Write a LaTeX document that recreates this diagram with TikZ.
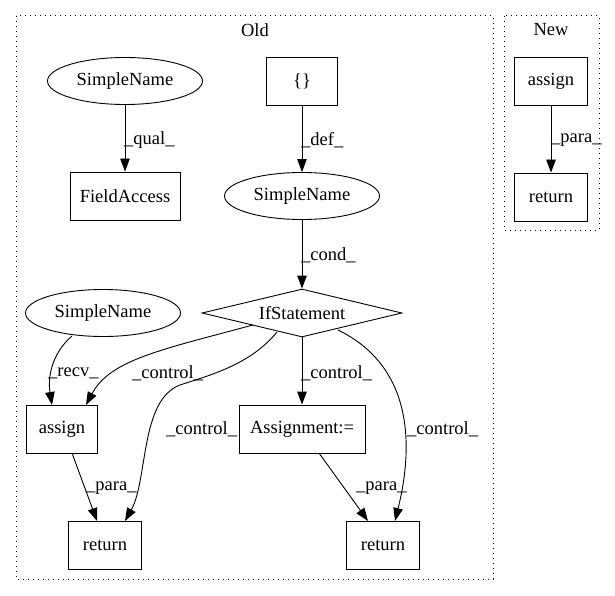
\documentclass[tikz,border=0pt]{standalone}
\usepackage{fontspec}
\setmainfont{Liberation Serif}
\usetikzlibrary{shapes.geometric,arrows.meta}
\begin{document}
\begin{tikzpicture}[x=1pt,y=-1pt,
  every node/.style={font=\fontsize{18.5}{20}\selectfont},
  box/.style={draw,line width=0.9pt,rectangle,minimum height=48pt,inner sep=0pt},
  ell/.style={draw,line width=0.9pt,ellipse,minimum width=155pt,minimum height=47pt,inner sep=0pt},
  dia/.style={draw,line width=0.9pt,diamond,aspect=4.17,minimum width=200pt,minimum height=48pt,inner sep=0pt},
  edge/.style={draw,line width=0.9pt,-{Triangle[length=13pt,width=9.5pt]}},
  lab/.style={inner sep=0pt,anchor=west},
  cluster/.style={draw,line width=1pt,dash pattern=on 1.3pt off 3.7pt}]
\useasboundingbox (0,0) rectangle (615,596);
\draw[cluster] (16,16) rectangle (493,579);
\draw[cluster] (504,16) rectangle (599,230);
\node (old) at (255,30) {Old};
\node (new) at (551,30) {New};
% Old nodes
\node[ell] (sn1) at (125,81) {SimpleName};
\node[box,minimum width=110pt] (fa) at (125,196) {FieldAccess};
\node[box,minimum width=71pt] (br) at (302,81) {\{\}};
\node[ell] (sn2) at (302,196) {SimpleName};
\node[dia] (if) at (302,313) {IfStatement};
\node[ell] (sn3) at (103,313) {SimpleName};
\node[box,minimum width=71pt] (as) at (62,429) {assign};
\node[box,minimum width=126pt] (asg) at (302,429) {Assignment:=};
\node[box,minimum width=73pt] (r1) at (105,545) {return};
\node[box,minimum width=73pt] (r2) at (383,545) {return};
% New nodes
\node[box,minimum width=73pt] (nas) at (551,81) {assign};
\node[box,minimum width=73pt] (nr) at (551,197) {return};
% edges
\draw[edge] (sn1) -- (fa);
\node[lab] (l1) at (124,140) {\_qual\_};
\draw[edge] (br) -- (sn2);
\node[lab] (l2) at (301,140) {\_def\_};
\draw[edge] (sn2) -- (if);
\node[lab] (l3) at (301,255) {\_cond\_};
\coordinate (c1) at (72,336);
\coordinate (a0) at (52,405);
\draw[edge] (c1) .. controls (50,355) and (48,380) .. (a0);
\node[lab] (l4) at (48,373) {\_recv\_};
\coordinate (i1) at (253,325);
\coordinate (a1) at (86,405);
\draw[edge] (i1) .. controls (160,350) and (110,360) .. (a1);
\node[lab] (l5) at (132,373) {\_control\_};
\coordinate (i2) at (277,332);
\coordinate (k2) at (180,385);
\coordinate (r1t) at (125,521);
\draw[edge] (i2) .. controls (250,365) and (210,375) .. (k2) .. controls (140,400) and (148,480) .. (r1t);
\node[lab] (l6) at (166,429) {\_control\_};
\draw[edge] (if) -- (asg);
\node[lab] (l7) at (301,373) {\_control\_};
\coordinate (i3) at (338,330);
\coordinate (r2t) at (395,521);
\draw[edge] (i3) .. controls (410,365) and (415,440) .. (r2t);
\node[lab] (l8) at (407,429) {\_control\_};
\coordinate (a2) at (72,453);
\coordinate (r1u) at (97,521);
\draw[edge] (a2) -- (r1u);
\node[lab] (l9) at (86,488) {\_para\_};
\coordinate (g2) at (319,453);
\coordinate (r2u) at (368,521);
\draw[edge] (g2) -- (r2u);
\node[lab] (l10) at (356,488) {\_para\_};
\draw[edge] (nas) -- (nr);
\node[lab] (l11) at (551,140) {\_para\_};
\end{tikzpicture}
\end{document}
